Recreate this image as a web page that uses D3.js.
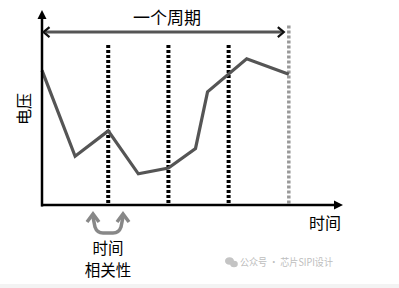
<!DOCTYPE html>
<html><head><meta charset="utf-8">
<script src="https://cdn.jsdelivr.net/npm/d3@7/dist/d3.min.js"></script>
<style>
html,body{margin:0;padding:0;background:#fff;}
svg{display:block;}
text{font-family:"Noto Sans CJK SC","Noto Sans",sans-serif;}
</style></head>
<body>
<script>
// data
const times = [0, 11, 22, 32, 42, 51, 55, 68, 82];
const voltages = [69, 25, 38, 16, 19, 29, 58, 75, 67];
const sampleTimes = [22, 42, 62];
const periodEnd = 82;
const labels = {title: "一个周期", yLabel: "电压", xLabel: "时间", corr: ["时间", "相关性"], mark: "公众号 · 芯片SIPI设计"};

const W = 399, H = 288;
const svg = d3.select("body").append("svg").attr("width", W).attr("height", H);

const x = d3.scaleLinear().domain([0, 100]).range([42, 343]);
const y = d3.scaleLinear().domain([0, 100]).range([205, 10]);

// bottom grey band
svg.append("rect").attr("x", 0).attr("y", 284).attr("width", W).attr("height", 4).attr("fill", "#f3f3f3");

// sample dashed lines
svg.selectAll(".samp").data(sampleTimes).join("line")
  .attr("x1", d => x(d)).attr("x2", d => x(d))
  .attr("y1", y(82)).attr("y2", y(0))
  .attr("stroke", "#000").attr("stroke-width", 4).attr("stroke-dasharray", "3,2");
svg.append("line")
  .attr("x1", x(periodEnd)).attr("x2", x(periodEnd))
  .attr("y1", y(92)).attr("y2", y(0))
  .attr("stroke", "#999").attr("stroke-width", 3.5).attr("stroke-dasharray", "3,2");

// signal line
const line = d3.line().x((d, i) => x(times[i])).y(d => y(d));
svg.append("path").datum(voltages).attr("d", line)
  .attr("fill", "none").attr("stroke", "#555").attr("stroke-width", 3.2).attr("stroke-linejoin", "miter");

// axes
const x0 = x(0), y0 = y(0), xEnd = x(100), yTop = y(100);
svg.append("line").attr("x1", x0).attr("x2", x0).attr("y1", y0 + 1.5).attr("y2", yTop + 6)
  .attr("stroke", "#000").attr("stroke-width", 2.5);
svg.append("line").attr("x1", x0 - 1).attr("x2", xEnd - 6).attr("y1", y0).attr("y2", y0)
  .attr("stroke", "#000").attr("stroke-width", 2.5);
svg.append("path").attr("d", `M${x0},${yTop} L${x0-4.5},${yTop+9} L${x0+4.5},${yTop+9} Z`).attr("fill", "#000");
svg.append("path").attr("d", `M${xEnd},${y0} L${xEnd-9},${y0-4.5} L${xEnd-9},${y0+4.5} Z`).attr("fill", "#000");

// period double arrow
const ya = y(88.7), xa1 = x(0) + 1.5, xa2 = x(periodEnd) - 5;
svg.append("line").attr("x1", xa1 + 2).attr("x2", xa2 - 2).attr("y1", ya).attr("y2", ya)
  .attr("stroke", "#555").attr("stroke-width", 3);
svg.append("path").attr("d", `M${xa1+6},${ya-5} L${xa1},${ya} L${xa1+6},${ya+5}`)
  .attr("fill", "none").attr("stroke", "#111").attr("stroke-width", 2.2);
svg.append("path").attr("d", `M${xa2-6},${ya-5} L${xa2},${ya} L${xa2-6},${ya+5}`)
  .attr("fill", "none").attr("stroke", "#111").attr("stroke-width", 2.2);

// title
svg.append("text").attr("x", 167).attr("y", 24).attr("text-anchor", "middle")
  .attr("font-size", 17).attr("fill", "#000").text(labels.title);

// y label
svg.append("text").attr("transform", "translate(30,109) rotate(-90)").attr("text-anchor", "middle")
  .attr("font-size", 16).attr("fill", "#000").text(labels.yLabel);

// x label
svg.append("text").attr("x", 325).attr("y", 229).attr("text-anchor", "middle")
  .attr("font-size", 16).attr("fill", "#000").text(labels.xLabel);

// correlation U-arrow
const la = 93, ra = 123, ta = 214, ba = 233;
svg.append("path")
  .attr("d", `M${la},${ta+3} L${la+2},${ba-6} Q${la+4},${ba} ${la+10},${ba} L${ra-10},${ba} Q${ra-4},${ba} ${ra-2},${ba-6} L${ra},${ta+3}`)
  .attr("fill", "none").attr("stroke", "#888").attr("stroke-width", 3.5);
[la, ra].forEach(ax => {
  svg.append("path").attr("d", `M${ax-6},${ta+8} L${ax},${ta} L${ax+6},${ta+8}`)
    .attr("fill", "none").attr("stroke", "#888").attr("stroke-width", 3.5).attr("stroke-linejoin", "miter");
});

svg.selectAll(".corr").data(labels.corr).join("text")
  .attr("x", 108).attr("y", (d, i) => 254 + i * 22).attr("text-anchor", "middle")
  .attr("font-size", 15.5).attr("fill", "#000").text(d => d);

// watermark
const wm = svg.append("g").attr("fill", "#c4c4c4");
wm.append("ellipse").attr("cx", 229.5).attr("cy", 261).attr("rx", 4.5).attr("ry", 3.8);
wm.append("ellipse").attr("cx", 234).attr("cy", 264).attr("rx", 3.8).attr("ry", 3.2);
svg.append("text").attr("x", 240).attr("y", 266).attr("font-size", 10).attr("fill", "#bdbdbd")
  .attr("textLength", 93).attr("lengthAdjust", "spacingAndGlyphs").text(labels.mark);
</script>
</body></html>
